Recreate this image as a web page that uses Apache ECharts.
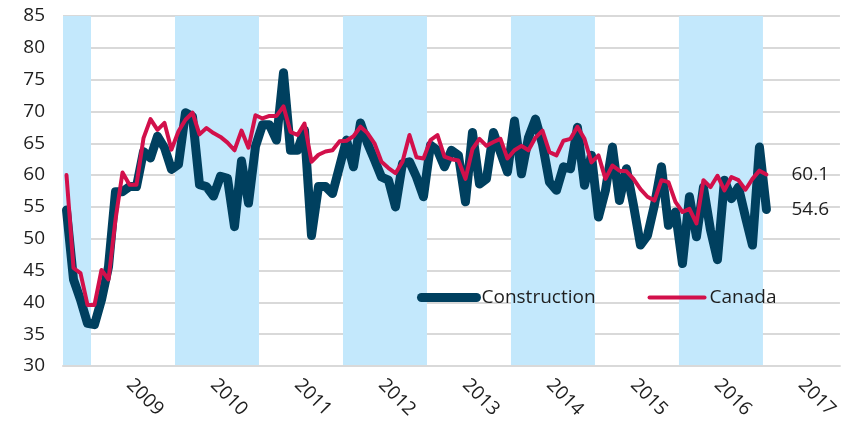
<!DOCTYPE html>
<html>
<head>
<meta charset="utf-8">
<script src="https://cdn.jsdelivr.net/npm/echarts@6/dist/echarts.min.js"></script>
<style>
  html, body { margin: 0; padding: 0; background: #fff; }
  #chart { width: 841px; height: 426px; }
</style>
</head>
<body>
<div id="chart"></div>
<script>
// monthly values, Sep 2008 .. Jan 2017
const startYear = 2008
const startMonth = 9
const axisMonths = 111 // axis runs on to late 2017
const construction = [
  54.5, 43.6, 40.4, 36.7, 36.5, 40.4, 45.6, 57.4, 57.4, 58.2, 58.2, 63.7,
  62.7, 66.1, 64.3, 60.9, 61.7, 69.8, 69.2, 58.5, 58.2, 56.7, 59.8, 59.5,
  51.9, 62.2, 55.6, 64.5, 67.9, 67.9, 65.5, 76.1, 63.9, 63.9, 67.1, 50.5,
  58.2, 58.2, 57.1, 61.3, 65.5, 61.3, 68.2, 65.0, 62.4, 59.7, 59.2, 55.0,
  61.8, 62.1, 59.7, 56.6, 64.7, 63.9, 61.3, 63.9, 63.1, 55.8, 66.7, 58.6,
  59.4, 66.7, 63.6, 60.5, 68.5, 60.2, 65.9, 68.8, 64.9, 58.9, 57.6, 61.3,
  61.0, 67.5, 58.4, 63.1, 53.4, 57.6, 64.4, 56.0, 61.0, 55.3, 49.0, 50.5,
  55.3, 61.3, 52.1, 54.2, 46.1, 56.6, 50.3, 58.1, 51.4, 46.7, 59.2, 56.3,
  58.1, 53.4, 49.0, 64.4, 54.6,
]
const canada = [
  60.0, 45.4, 44.6, 39.6, 39.6, 45.1, 43.6, 53.0, 60.4, 58.5, 58.5, 65.8,
  68.8, 67.1, 68.2, 64.0, 66.9, 68.7, 69.8, 66.4, 67.4, 66.6, 66.0, 65.1,
  63.9, 67.0, 64.3, 69.4, 68.9, 69.3, 69.3, 70.8, 66.8, 66.3, 68.1, 62.1,
  63.2, 63.7, 63.9, 65.3, 65.4, 66.1, 67.6, 66.6, 65.0, 62.1, 61.1, 60.3,
  62.1, 66.3, 62.8, 62.6, 65.5, 66.3, 62.9, 62.5, 62.3, 59.4, 64.1, 65.7,
  64.6, 65.2, 65.7, 62.6, 63.9, 64.6, 63.9, 65.9, 67.0, 63.6, 63.1, 65.4,
  65.7, 67.6, 65.7, 62.0, 63.1, 59.4, 61.5, 60.7, 60.6, 59.4, 57.8, 56.6,
  56.0, 59.2, 58.9, 55.8, 54.2, 54.7, 52.4, 59.2, 58.1, 59.9, 57.6, 59.7,
  59.2, 57.7, 59.4, 60.7, 60.1,
]
const shadedYears = [2008, 2010, 2012, 2014, 2016]
const seriesNames = ['Construction', 'Canada']
const colors = ['#00405f', '#d2104b']
const lineWidths = [9, 4]

// month index helpers
const monthIndex = (y, m) => (y - startYear) * 12 + (m - startMonth)
const months = []
for (let i = 0; i < axisMonths; i++) {
  const m = ((startMonth - 1 + i) % 12) + 1
  const y = startYear + Math.floor((startMonth - 1 + i) / 12)
  months.push(y + '-' + (m < 10 ? '0' + m : m))
}
const toPoints = (arr) => arr.map((v, i) => [i + 0.5, v])

const bands = shadedYears.map((y) => [
  { xAxis: Math.max(0, monthIndex(y, 1)) },
  { xAxis: Math.min(construction.length - 1, monthIndex(y, 12)) + 1 },
])

const font = 'Open Sans'
const textColor = '#1e1e1e'

const endLabel = {
  show: true,
  distance: 25,
  formatter: (p) => p.value[1].toFixed(1),
  fontFamily: font,
  fontSize: 19,
  color: textColor,
}

const chart = echarts.init(document.getElementById('chart'))
chart.setOption({
  animation: false,
  grid: { left: 63, right: 0, top: 16, bottom: 60 },
  legend: {
    data: seriesNames.map((n, i) => ({
      name: n,
      itemStyle: { opacity: 0 },
      lineStyle: { width: lineWidths[i], cap: 'round', color: colors[i] },
    })),
    left: 412,
    top: 283,
    itemWidth: 55,
    itemHeight: 20,
    itemGap: 52,
    textStyle: { fontFamily: font, fontSize: 19, color: textColor },
  },
  xAxis: [
    {
      type: 'value',
      min: 0,
      max: axisMonths,
      z: 3,
      axisLine: { show: true, lineStyle: { color: '#d9d9d9', width: 2 } },
      axisTick: { show: false },
      axisLabel: { show: false },
      splitLine: { show: false },
    },
    {
      type: 'category',
      data: months,
      boundaryGap: true,
      position: 'bottom',
      axisLine: { show: false },
      axisTick: { show: false },
      axisLabel: {
        interval: (idx, val) => val.slice(5) === '06',
        formatter: (val) => val.slice(0, 4),
        rotate: -45,
        margin: 16,
        fontFamily: font,
        fontSize: 19,
        color: textColor,
      },
    },
  ],
  yAxis: {
    type: 'value',
    min: 30,
    max: 85,
    interval: 5,
    axisLine: { show: false },
    axisTick: { show: false },
    axisLabel: { margin: 18, fontFamily: font, fontSize: 19, color: textColor },
    splitLine: { lineStyle: { color: '#d9d9d9', width: 2 } },
  },
  series: [
    {
      name: 'bands',
      type: 'line',
      xAxisIndex: 0,
      data: [],
      z: 1,
      silent: true,
      markArea: {
        silent: true,
        itemStyle: { color: '#c3e8fc' },
        data: bands,
      },
    },
    {
      name: seriesNames[0],
      type: 'line',
      xAxisIndex: 0,
      data: toPoints(construction),
      symbol: 'none',
      z: 2,
      color: colors[0],
      lineStyle: { width: lineWidths[0], cap: 'round', join: 'round' },
      endLabel: endLabel,
    },
    {
      name: seriesNames[1],
      type: 'line',
      xAxisIndex: 0,
      data: toPoints(canada),
      symbol: 'none',
      z: 3,
      color: colors[1],
      lineStyle: { width: lineWidths[1], cap: 'round', join: 'round' },
      endLabel: endLabel,
    },
  ],
})
</script>
</body>
</html>
